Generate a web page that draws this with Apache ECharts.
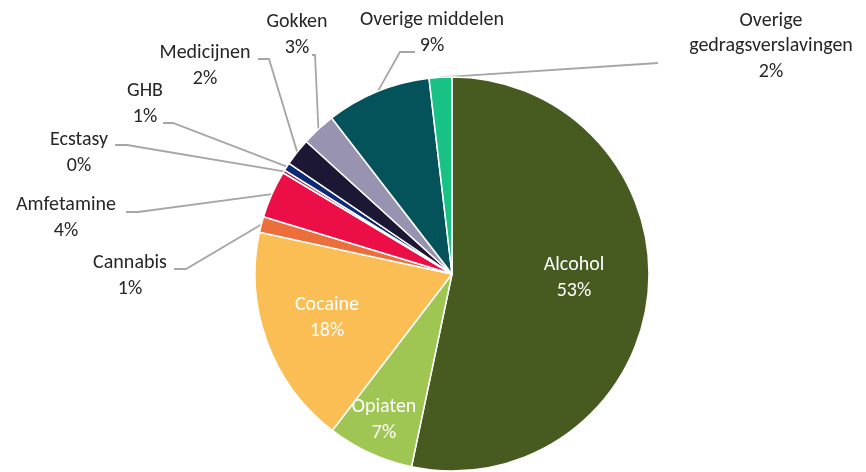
<!DOCTYPE html>
<html><head><meta charset="utf-8">
<script src="https://cdn.jsdelivr.net/npm/echarts@6/dist/echarts.min.js"></script>
<style>html,body{margin:0;padding:0;background:#fff}#c{width:866px;height:472px}</style>
</head><body><div id="c"></div>
<script>
const categories = ['Alcohol','Opiaten','Cocaine','Cannabis','Amfetamine','Ecstasy','GHB','Medicijnen','Gokken','Overige middelen','Overige\ngedragsverslavingen'];
const values = [53.3, 7.1, 18.0, 1.3, 3.9, 0.25, 0.65, 2.25, 2.8, 8.6, 1.86];
const colors = ['#475A1F','#9FC552','#FBBE55','#EC6E3B','#EC0F47','#B4184E','#0B2A78','#1C1734','#9893B0','#05535A','#17C284'];
const insideLabels = ['Alcohol','Opiaten','Cocaine'];

// label layout (text block centres and leader-line elbows), by index
const labelPos = [
  [574,278,null],
  [384,420,null],
  [327,318,null],
  [130,276,[[186,269],[174,269]]],
  [66,218,[[138,212],[126,212]]],
  [79,153,[[127,145],[115,145]]],
  [145,104,[[173,123],[163,123]]],
  [205,66,[[269,59],[258,59]]],
  [297,35,[[315,55],[312,55]]],
  [432,33,[[400,52],[415,52]]],
  [771,46,[[658,63],[658,63]]]
];

const total = values.reduce((a,b)=>a+b,0);
const chart = echarts.init(document.getElementById('c'));
chart.setOption({
  animation:false,
  series:[{
    type:'pie',
    center:[452,274],
    radius:197,
    startAngle:90,
    clockwise:true,
    avoidLabelOverlap:false,
    itemStyle:{borderColor:'#fff',borderWidth:1.5},
    label:{
      show:true,position:'outside',
      fontFamily:'Carlito, Lato, sans-serif',fontSize:20,lineHeight:25.5,color:'#262626',align:'center',
      formatter:p=>p.name+'\n'+Math.round(p.value/total*100)+'%'
    },
    labelLine:{show:true,lineStyle:{color:'#A6A6A6',width:1.8},length:10,length2:10},
    labelLayout:function(p){
      const lp = labelPos[p.dataIndex];
      const r = {x:lp[0], y:lp[1], align:'center', verticalAlign:'middle'};
      if (lp[2] && p.labelLinePoints) {
        r.labelLinePoints = [p.labelLinePoints[0], lp[2][0], lp[2][1]];
      }
      return r;
    },
    data: categories.map((c,i)=>{
      const o = {name:c, value:values[i], itemStyle:{color:colors[i]}};
      if (insideLabels.indexOf(c)>=0) {
        o.label = {position:'inside', color:'#fff'};
        o.labelLine = {show:false};
      }
      return o;
    })
  }]
});
</script></body></html>
